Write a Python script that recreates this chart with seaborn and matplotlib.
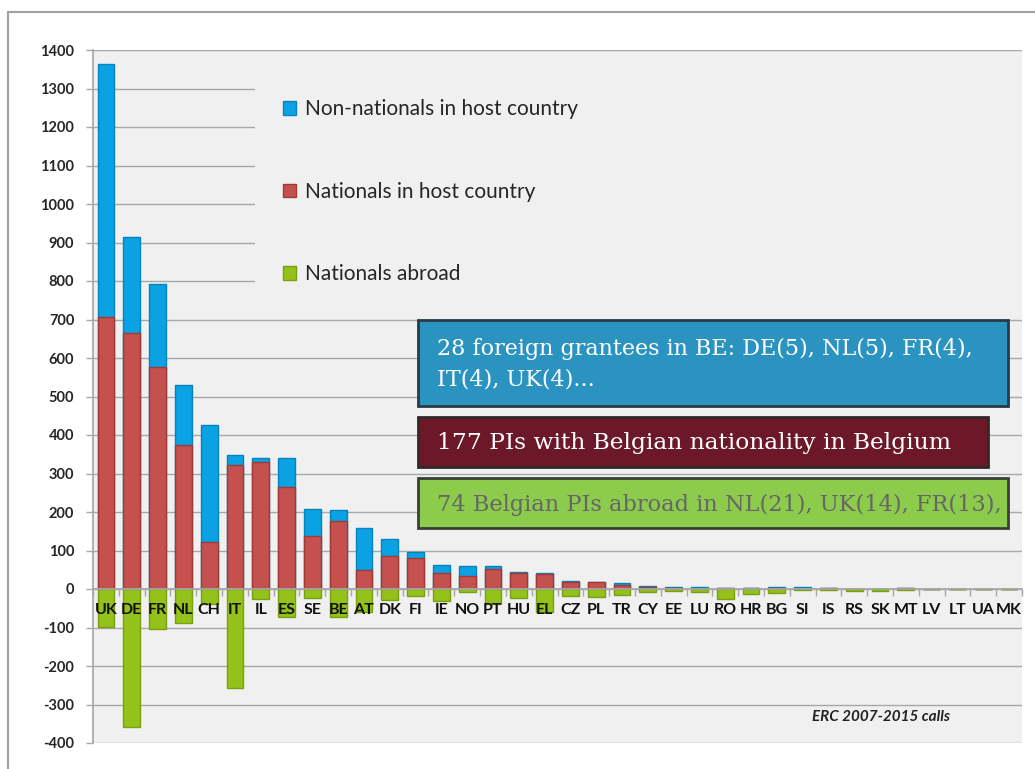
import numpy as np
import pandas as pd
import matplotlib
matplotlib.use("Agg")
import matplotlib.pyplot as plt
import seaborn as sns
from matplotlib.patches import Rectangle, Patch
from matplotlib.lines import Line2D

categories = ["UK", "DE", "FR", "NL", "CH", "IT", "IL", "ES", "SE", "BE", "AT", "DK",
              "FI", "IE", "NO", "PT", "HU", "EL", "CZ", "PL", "TR", "CY", "EE", "LU",
              "RO", "HR", "BG", "SI", "IS", "RS", "SK", "MT", "LV", "LT", "UA", "MK"]
nationals_host = [706, 665, 577, 374, 121, 322, 331, 265, 137, 177, 49, 86,
                  80, 41, 35, 52, 41, 38, 17, 19, 11, 5, 3, 1,
                  2, 2, 2, 1, 2, 1, 1, 2, 1, 0.5, 0, 0]
non_nationals = [658, 250, 214, 156, 305, 27, 10, 75, 71, 28, 110, 44,
                 15, 22, 24, 7, 3, 3, 5, 0, 4, 4, 3, 3,
                 0, 0, 3, 3, 0, 0, 0, 0, 0, 0, 0, 0]
nationals_abroad = [98, 358, 105, 88, 38, 257, 26, 74, 24, 74, 59, 28,
                    17, 31, 8, 39, 24, 59, 19, 21, 15, 7, 4, 7,
                    26, 12, 10, 3, 3, 4, 4, 3, 1, 1, 1, 1]
yticks = list(range(-400, 1401, 100))
legend_labels = ["Non-nationals in host country", "Nationals in host country", "Nationals abroad"]
box_texts = ["28 foreign grantees in BE: DE(5), NL(5), FR(4),\nIT(4), UK(4)...",
             "177 PIs with Belgian nationality in Belgium",
             "74 Belgian PIs abroad in NL(21), UK(14), FR(13),"]
source_note = "ERC 2007-2015 calls"

df = pd.DataFrame({
    "country": categories,
    "host": nationals_host,
    "total": np.array(nationals_host) + np.array(non_nationals),
    "abroad": -np.array(nationals_abroad),
})

BLUE, BLUE_E = "#0aa2e2", "#0682bd"
RED, RED_E = "#c4514e", "#9e3b39"
GREEN, GREEN_E = "#94c11a", "#78a010"
BG = "#f0f0f0"

sns.set_theme(style="white")
plt.rcParams["font.family"] = ["Lato", "DejaVu Sans"]
plt.rcParams["axes.unicode_minus"] = False

W, H = 1035, 769
fig = plt.figure(figsize=(W / 100, H / 100), dpi=100)
fig.patch.set_facecolor("white")
ax = fig.add_axes([93 / W, 1 - 743 / H, (1022 - 93) / W, (743 - 50) / H])
ax.set_facecolor(BG)

kw = dict(order=categories, width=0.65, linewidth=1.0, zorder=2, ax=ax)
sns.barplot(data=df, x="country", y="total", color=BLUE, edgecolor=BLUE_E, saturation=1, **kw)
sns.barplot(data=df, x="country", y="host", color=RED, edgecolor=RED_E, saturation=1, **kw)
sns.barplot(data=df, x="country", y="abroad", color=GREEN, edgecolor=GREEN_E, saturation=1, **kw)

ax.set_xlim(-0.5, len(categories) - 0.5)
ax.set_ylim(-400, 1400)
ax.set_xlabel("")
ax.set_ylabel("")

# gridlines
ax.set_axisbelow(True)
ax.set_yticks(yticks)
ax.yaxis.grid(True, color="#a8a8a8", linewidth=1.0)
ax.xaxis.grid(False)
ax.tick_params(axis="y", which="major", length=5, width=1, color="#a8a8a8", pad=8.5,
               labelsize=10.5, left=True)
for lab in ax.get_yticklabels():
    lab.set_fontweight("bold")

# x axis: spine at zero with tick marks between categories
ax.spines["bottom"].set_position(("data", 0))
ax.spines["bottom"].set_color("#a8a8a8")
ax.spines["left"].set_color("#a8a8a8")
ax.spines["top"].set_visible(False)
ax.spines["right"].set_visible(False)
ax.set_xticks(np.arange(-0.5, len(categories), 1.0))
ax.set_xticklabels([])
ax.tick_params(axis="x", length=5, width=1, color="#a8a8a8", bottom=True, direction="out")
for i, c in enumerate(categories):
    ax.text(i, -55, c, ha="center", va="center", fontsize=11.5, fontweight="bold",
            color="#111111", zorder=6)

# legend area covers gridlines
ax.add_patch(Rectangle((5.78, 752), 35.5 - 5.78, 1374 - 752, facecolor=BG,
                       edgecolor="none", zorder=0.8))
handles = [Patch(facecolor=BLUE, edgecolor=BLUE_E), Patch(facecolor=RED, edgecolor=RED_E),
           Patch(facecolor=GREEN, edgecolor=GREEN_E)]
fig.legend(handles, legend_labels, loc="upper left",
           bbox_to_anchor=(275 / W, 1 - 91 / H), frameon=False, fontsize=15,
           handlelength=0.6, handleheight=0.6, handletextpad=0.45, labelspacing=3.0,
           borderaxespad=0)

# annotation boxes
def box(x0, y0, x1, y1, fc, ec, text, tc, ty, fs):
    fig.add_artist(Rectangle((x0 / W, 1 - y1 / H), (x1 - x0) / W, (y1 - y0) / H,
                             transform=fig.transFigure, facecolor=fc, edgecolor=ec,
                             linewidth=2.0, zorder=10))
    fig.text(437 / W, 1 - ty / H, text, color=tc, fontsize=fs, family=["DejaVu Serif"],
             ha="left", va="center", zorder=11, linespacing=1.5)

box(418, 320, 1008, 406, "#2b93c0", "#2a3a44", box_texts[0], "white", 364, 16)
box(418, 417, 988, 467, "#6c1828", "#2e2a2a", box_texts[1], "white", 443, 16.8)
box(418, 478, 1008, 528, "#8ccb4c", "#3a3f36", box_texts[2], "#666666", 505, 16.2)

ax.text(0.922, 1 - (717 - 50) / (743 - 50), source_note, transform=ax.transAxes,
        ha="right", va="center", fontsize=11, fontweight="bold", fontstyle="italic",
        color="#222222", zorder=6)

# outer frame lines
fig.add_artist(Line2D([8 / W, 1], [1 - 12 / H, 1 - 12 / H], transform=fig.transFigure,
                      color="#a0a0a0", linewidth=1.5))
fig.add_artist(Line2D([8 / W, 8 / W], [0, 1 - 12 / H], transform=fig.transFigure,
                      color="#a0a0a0", linewidth=1.5))

fig.savefig("out.png", dpi=100, facecolor="white")
